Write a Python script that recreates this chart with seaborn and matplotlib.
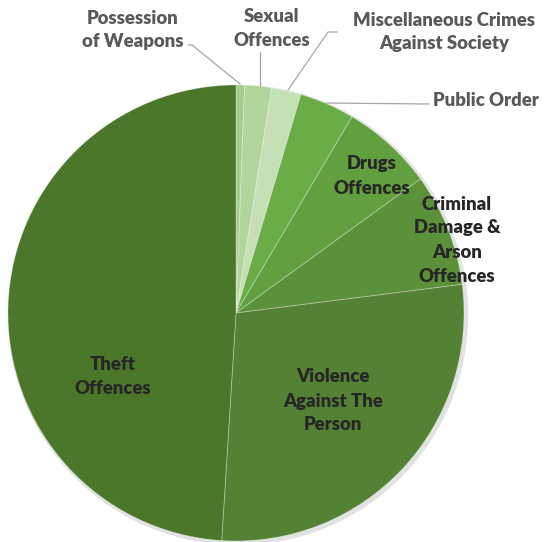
import matplotlib
matplotlib.use("Agg")
import matplotlib.pyplot as plt
import seaborn as sns

categories = ["Possession\nof Weapons", "Sexual\nOffences", "Miscellaneous Crimes\nAgainst Society",
              "Public Order", "Drugs\nOffences", "Criminal\nDamage &\nArson\nOffences",
              "Violence\nAgainst The\nPerson", "Theft\nOffences"]
values = [0.6, 1.9, 2.1, 3.9, 6.5, 8.0, 28.0, 49.0]
colors = ["#a3cd8a", "#b2d59e", "#c6e0b6", "#6aad46", "#62a03f", "#5a9139", "#548235", "#4b772b"]

sns.set_theme(style="white")
plt.rcParams['font.family'] = ['Lato', 'DejaVu Sans']

W, H = 553, 542
fig = plt.figure(figsize=(W / 100, H / 100), dpi=100)
ax = fig.add_axes([0, 0, 1, 1])

cx, cy, r = 236, H - 313, 228
shadow = plt.Circle((cx + 2, cy - 2), r + 1.5, color="#e2e2e2", zorder=0)
ax.add_patch(shadow)
wedges, _ = ax.pie(values, colors=colors, startangle=90, counterclock=False,
                   center=(cx, cy), radius=r, frame=True,
                   wedgeprops=dict(edgecolor=(1, 1, 1, 0.35), linewidth=0.6))
ax.set_xlim(0, W)
ax.set_ylim(0, H)
ax.set_aspect("equal")
ax.axis("off")

def py(y):
    return H - y

outside = "#595959"
inside = "#262626"
fs = 13.3
ls = 1.5
lc = "#a6a6a6"

ax.text(133, py(30), categories[0], ha="center", va="center", fontsize=fs, fontweight="heavy",
        color=outside, linespacing=ls)
ax.plot([188, 192, 240], [py(45), py(45), py(84)], color=lc, lw=0.9)

ax.text(272, py(28), categories[1], ha="center", va="center", fontsize=fs, fontweight="heavy",
        color=outside, linespacing=ls)
ax.plot([260, 260], [py(52), py(86)], color=lc, lw=0.9)

ax.text(444, py(32), categories[2], ha="center", va="center", fontsize=fs, fontweight="heavy",
        color=outside, linespacing=ls)
ax.plot([337, 328, 288], [py(32), py(32), py(90)], color=lc, lw=0.9)

ax.text(433, py(101), categories[3], ha="left", va="center", fontsize=fs, fontweight="heavy",
        color=outside)
ax.plot([429, 326], [py(104), py(103)], color=lc, lw=0.9)

ax.text(372, py(176), categories[4], ha="center", va="center", fontsize=fs, fontweight="heavy",
        color=inside, linespacing=ls)
ax.text(457, py(240), categories[5], ha="center", va="center", fontsize=fs, fontweight="heavy",
        color=inside, linespacing=ls)
ax.text(333, py(401), categories[6], ha="center", va="center", fontsize=fs, fontweight="heavy",
        color=inside, linespacing=ls)
ax.text(113, py(376), categories[7], ha="center", va="center", fontsize=fs, fontweight="heavy",
        color=inside, linespacing=ls)

fig.savefig("out.png", dpi=100)
